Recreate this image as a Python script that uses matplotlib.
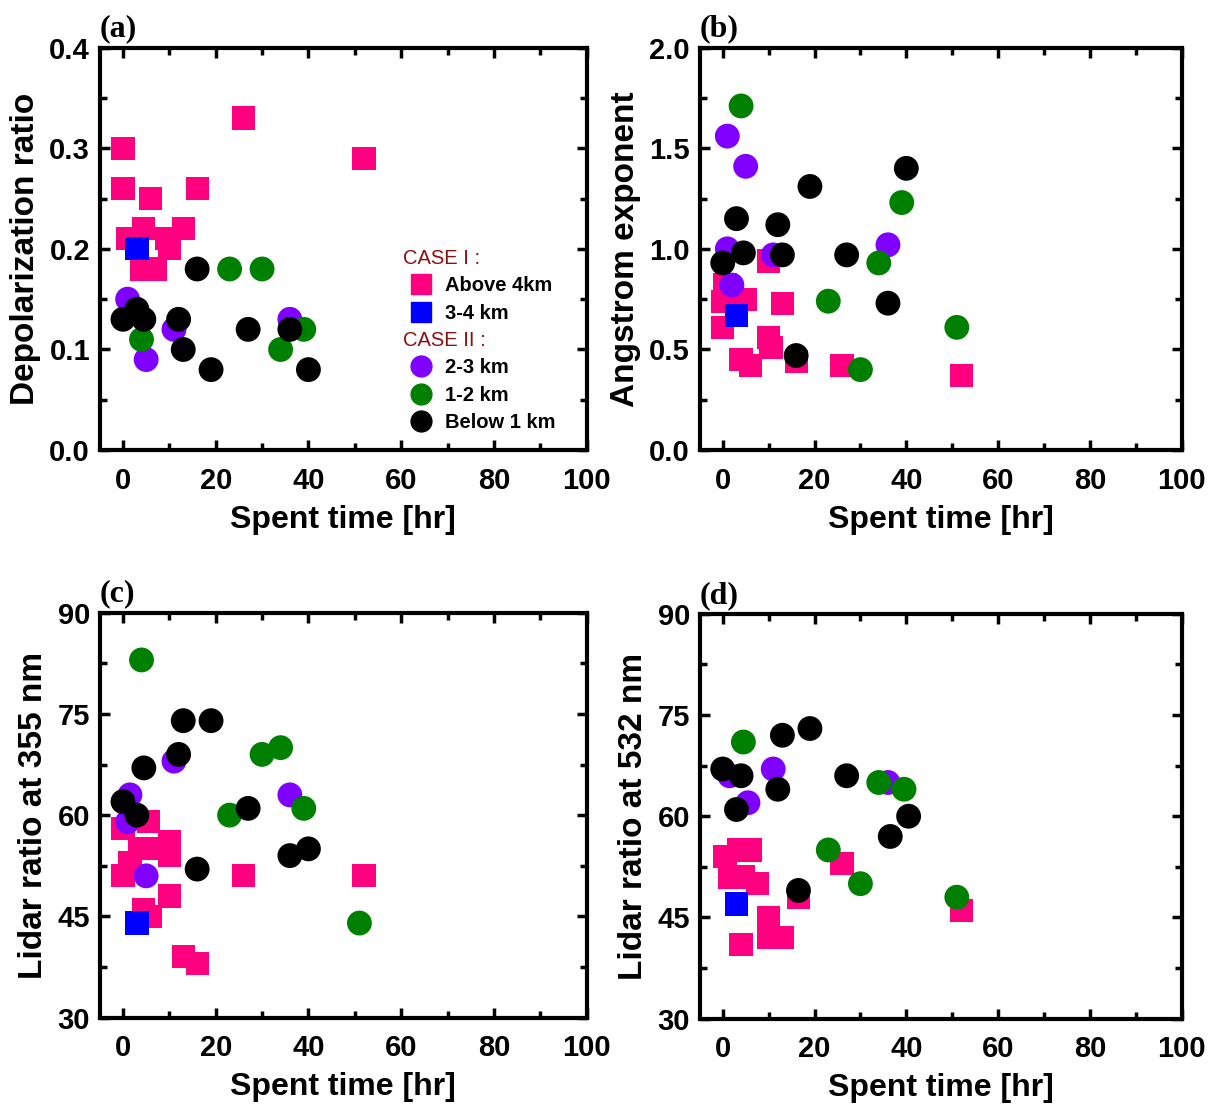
import matplotlib.pyplot as plt
from matplotlib.lines import Line2D
from matplotlib.ticker import MultipleLocator, FormatStrFormatter

# (a) depolarization ratio vs spent time
dep_above4_t = [0, 0, 6, 1, 4.5, 13, 9.5, 10, 4, 7, 16, 26, 52]
dep_above4_v = [0.30, 0.26, 0.25, 0.21, 0.22, 0.22, 0.21, 0.20, 0.18, 0.18, 0.26, 0.33, 0.29]
dep_34_t = [3]
dep_34_v = [0.20]
dep_23_t = [1, 5, 11, 36]
dep_23_v = [0.15, 0.09, 0.12, 0.13]
dep_12_t = [4, 23, 30, 34, 39]
dep_12_v = [0.11, 0.18, 0.18, 0.10, 0.12]
dep_b1_t = [0, 3, 4.5, 16, 12, 13, 19, 27, 36, 40]
dep_b1_v = [0.13, 0.14, 0.13, 0.18, 0.13, 0.10, 0.08, 0.12, 0.12, 0.08]

# (b) angstrom exponent
ang_above4_t = [0, 0, 0.5, 5, 13, 10, 4, 6, 10, 10.5, 16, 26, 52]
ang_above4_v = [0.61, 0.74, 0.82, 0.75, 0.73, 0.94, 0.45, 0.42, 0.56, 0.51, 0.44, 0.42, 0.37]
ang_34_t = [3]
ang_34_v = [0.67]
ang_23_t = [1, 5, 1, 2, 11, 36]
ang_23_v = [1.56, 1.41, 1.00, 0.82, 0.97, 1.02]
ang_12_t = [4, 39, 34, 23, 30, 51]
ang_12_v = [1.71, 1.23, 0.93, 0.74, 0.40, 0.61]
ang_b1_t = [0, 3, 4.5, 12, 13, 19, 27, 40, 36, 16]
ang_b1_v = [0.93, 1.15, 0.98, 1.12, 0.97, 1.31, 0.97, 1.40, 0.73, 0.47]

# (c) lidar ratio at 355 nm
lr355_above4_t = [0, 0, 1.5, 3.5, 5.5, 6.5, 10, 10, 10, 4.5, 6, 13, 16, 26, 52]
lr355_above4_v = [58, 51, 53, 55, 59, 55, 56, 54, 48, 46, 45, 39, 38, 51, 51]
lr355_34_t = [3]
lr355_34_v = [44]
lr355_23_t = [1.5, 1, 5, 11, 36]
lr355_23_v = [63, 59, 51, 68, 63]
lr355_12_t = [4, 30, 34, 23, 39, 51]
lr355_12_v = [83, 69, 70, 60, 61, 44]
lr355_b1_t = [0, 3, 4.5, 12, 13, 19, 27, 16, 36, 40]
lr355_b1_v = [62, 60, 67, 69, 74, 74, 61, 52, 54, 55]

# (d) lidar ratio at 532 nm
lr532_above4_t = [0.5, 3.5, 6, 1.5, 4.5, 7.5, 10, 10, 13, 4, 16.5, 26, 52]
lr532_above4_v = [54, 55, 55, 51, 51, 50, 45, 42, 42, 41, 48, 53, 46]
lr532_34_t = [3]
lr532_34_v = [47]
lr532_23_t = [1.5, 5.5, 11, 36]
lr532_23_v = [66, 62, 67, 65]
lr532_12_t = [4.5, 34, 39.5, 23, 30, 51]
lr532_12_v = [71, 65, 64, 55, 50, 48]
lr532_b1_t = [0, 4, 3, 13, 19, 12, 27, 36.5, 40.5, 16.5]
lr532_b1_v = [67, 66, 61, 72, 73, 64, 66, 57, 60, 49]

group_labels = ['Above 4km', '3-4 km', '2-3 km', '1-2 km', 'Below 1 km']
group_colors = ['#FF0080', '#0000FF', '#8000FF', '#008000', '#000000']
group_markers = ['s', 's', 'o', 'o', 'o']

plt.rcParams['font.family'] = ['Liberation Sans', 'DejaVu Sans']
plt.rcParams['font.weight'] = 'bold'

fig = plt.figure(figsize=(12.17, 11.06), dpi=100)

boxes = [
    [0.082, 0.593, 0.400, 0.364],
    [0.575, 0.593, 0.396, 0.364],
    [0.082, 0.080, 0.400, 0.366],
    [0.575, 0.079, 0.396, 0.366],
]

panels = [
    ('(a)', 'Depolarization ratio', (0, 0.4), 0.1, 0.05,
     [(dep_above4_t, dep_above4_v), (dep_34_t, dep_34_v), (dep_23_t, dep_23_v),
      (dep_12_t, dep_12_v), (dep_b1_t, dep_b1_v)], '%.1f'),
    ('(b)', 'Angstrom exponent', (0, 2.0), 0.5, 0.25,
     [(ang_above4_t, ang_above4_v), (ang_34_t, ang_34_v), (ang_23_t, ang_23_v),
      (ang_12_t, ang_12_v), (ang_b1_t, ang_b1_v)], '%.1f'),
    ('(c)', 'Lidar ratio at 355 nm', (30, 90), 15, 7.5,
     [(lr355_above4_t, lr355_above4_v), (lr355_34_t, lr355_34_v), (lr355_23_t, lr355_23_v),
      (lr355_12_t, lr355_12_v), (lr355_b1_t, lr355_b1_v)], '%d'),
    ('(d)', 'Lidar ratio at 532 nm', (30, 90), 15, 7.5,
     [(lr532_above4_t, lr532_above4_v), (lr532_34_t, lr532_34_v), (lr532_23_t, lr532_23_v),
      (lr532_12_t, lr532_12_v), (lr532_b1_t, lr532_b1_v)], '%d'),
]

axes = []
for box, (tag, ylabel, ylim, ymaj, ymin, groups, fmt) in zip(boxes, panels):
    ax = fig.add_axes(box)
    for (t, v), c, m in zip(groups, group_colors, group_markers):
        ax.scatter(t, v, marker=m, s=280 if m == 's' else 320, color=c, edgecolors='none')
    ax.set_xlim(-5, 100)
    ax.set_ylim(*ylim)
    ax.xaxis.set_major_locator(MultipleLocator(20))
    ax.xaxis.set_minor_locator(MultipleLocator(10))
    ax.yaxis.set_major_locator(MultipleLocator(ymaj))
    ax.yaxis.set_minor_locator(MultipleLocator(ymin))
    ax.yaxis.set_major_formatter(FormatStrFormatter(fmt))
    ax.tick_params(which='both', direction='in', top=True, right=True, width=2.5)
    ax.tick_params(which='major', length=7)
    ax.tick_params(which='minor', length=5)
    ax.tick_params(axis='x', which='major', pad=12)
    ax.tick_params(axis='y', which='major', pad=7)
    for sp in ax.spines.values():
        sp.set_linewidth(3)
    for lab in ax.get_xticklabels() + ax.get_yticklabels():
        lab.set_fontweight('bold')
        lab.set_fontsize(21)
    ax.set_xlabel('Spent time [hr]', fontsize=23, fontweight='bold', labelpad=7)
    ax.set_ylabel(ylabel, fontsize=24, fontweight='bold', labelpad=6)
    ax.text(0.0, 1.01, tag, transform=ax.transAxes, ha='left', va='bottom',
            fontsize=23, fontweight='bold', family=['Liberation Serif', 'DejaVu Serif'])
    axes.append(ax)

# legend in panel (a)
handles = [Line2D([], [], linestyle='none', marker=m, color=c, markersize=15)
           for c, m in zip(group_colors, group_markers)]
hdr = '#8B1010'
leg_kw = dict(loc='upper left', frameon=False, alignment='left',
              prop={'size': 14.5, 'weight': 'bold'}, handletextpad=0.3,
              labelspacing=0.42, borderaxespad=0, borderpad=0, handlelength=1.8)
leg1 = axes[0].legend(handles[:2], group_labels[:2], title='CASE I :',
                      bbox_to_anchor=(0.623, 0.5), **leg_kw)
axes[0].add_artist(leg1)
leg2 = axes[0].legend(handles[2:], group_labels[2:], title='CASE II :',
                      bbox_to_anchor=(0.623, 0.296), **leg_kw)
for lg in (leg1, leg2):
    lg.get_title().set_color(hdr)
    lg.get_title().set_fontsize(14.5)
    lg.get_title().set_fontweight('normal')

fig.savefig('out.png', dpi=100)
